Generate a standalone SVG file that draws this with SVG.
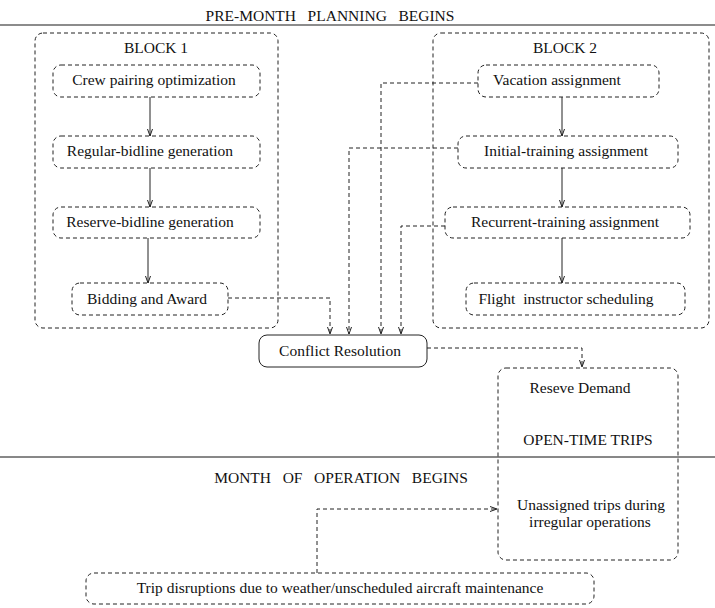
<svg xmlns="http://www.w3.org/2000/svg" width="715" height="608" viewBox="0 0 715 608">
<style>
text{font-family:"Liberation Serif","Times New Roman",serif;font-size:15.5px;fill:#111;text-anchor:middle;white-space:pre}
.db{fill:none;stroke:#222;stroke-width:1;stroke-dasharray:4,3}
.sb{fill:none;stroke:#222;stroke-width:1}
.dc{fill:none;stroke:#222;stroke-width:1;stroke-dasharray:4,3}
.sc{fill:none;stroke:#222;stroke-width:1}
</style>
<defs>
<marker id="ah" markerUnits="userSpaceOnUse" markerWidth="10" markerHeight="10" viewBox="-8 -5 10 10" refX="0" refY="0" orient="auto">
<path d="M-7,-2.5 L0,0 L-7,2.5" fill="none" stroke="#222" stroke-width="1" stroke-dasharray="none"/>
</marker>
</defs>
<rect width="715" height="608" fill="#fff"/>
<g id="phase-lines">
<line x1="0" y1="25" x2="715" y2="25" stroke="#666" stroke-width="1.5"/>
<text x="330" y="21">PRE-MONTH   PLANNING   BEGINS</text>
<line x1="0" y1="457" x2="715" y2="457" stroke="#111" stroke-width="1"/>
<text x="341" y="483">MONTH   OF   OPERATION   BEGINS</text>
</g>
<g id="block1">
<rect class="db" x="35" y="33" width="243" height="295" rx="8"/>
<text x="156" y="53">BLOCK 1</text>
</g>
<g id="block2">
<rect class="db" x="433" y="33" width="276" height="295" rx="8"/>
<text x="565" y="53">BLOCK 2</text>
</g>
<g id="crew-pairing">
<rect class="db" x="53" y="65" width="207" height="32" rx="8"/>
<text x="154" y="85">Crew pairing optimization</text>
</g>
<g id="regular-bidline">
<rect class="db" x="53" y="136" width="207" height="32" rx="8"/>
<text x="150" y="156">Regular-bidline generation</text>
</g>
<g id="reserve-bidline">
<rect class="db" x="53" y="207" width="207" height="31" rx="8"/>
<text x="150" y="227">Reserve-bidline generation</text>
</g>
<g id="bidding-award">
<rect class="db" x="72" y="283" width="156" height="32" rx="8"/>
<text x="147" y="304">Bidding and Award</text>
</g>
<g id="vacation">
<rect class="db" x="478" y="65" width="181" height="32" rx="8"/>
<text x="557" y="85">Vacation assignment</text>
</g>
<g id="initial-training">
<rect class="db" x="458" y="136" width="220" height="32" rx="8"/>
<text x="566" y="156">Initial-training assignment</text>
</g>
<g id="recurrent-training">
<rect class="db" x="445" y="207" width="245" height="31" rx="8"/>
<text x="565" y="227">Recurrent-training assignment</text>
</g>
<g id="flight-instructor">
<rect class="db" x="466" y="283" width="219" height="32" rx="8"/>
<text x="566" y="304">Flight  instructor scheduling</text>
</g>
<g id="conflict-resolution">
<rect class="sb" x="259" y="335" width="168" height="32" rx="8"/>
<text x="340" y="356">Conflict Resolution</text>
</g>
<g id="open-time-trips">
<rect class="db" x="498" y="368" width="180" height="192" rx="8"/>
<text x="580" y="393">Reseve Demand</text>
<text x="588" y="445">OPEN-TIME TRIPS</text>
<text x="591" y="510">Unassigned trips during</text>
<text x="590" y="527">irregular operations</text>
</g>
<g id="trip-disruptions">
<rect class="db" x="86" y="573" width="508" height="31" rx="8"/>
<text x="340" y="593">Trip disruptions due to weather/unscheduled aircraft maintenance</text>
</g>
<g id="connectors">
<line class="sc" x1="150" y1="97" x2="150" y2="136" marker-end="url(#ah)"/>
<line class="sc" x1="150" y1="168" x2="150" y2="207" marker-end="url(#ah)"/>
<line class="sc" x1="148" y1="238" x2="148" y2="283" marker-end="url(#ah)"/>
<line class="sc" x1="562" y1="97" x2="562" y2="136" marker-end="url(#ah)"/>
<line class="sc" x1="562" y1="168" x2="562" y2="207" marker-end="url(#ah)"/>
<line class="sc" x1="562" y1="238" x2="562" y2="283" marker-end="url(#ah)"/>
<polyline class="dc" points="228,298 330,298 330,334" marker-end="url(#ah)"/>
<polyline class="dc" points="458,148 349,148 349,334" marker-end="url(#ah)"/>
<polyline class="dc" points="478,83 381,83 381,334" marker-end="url(#ah)"/>
<polyline class="dc" points="445,226 401,226 401,334" marker-end="url(#ah)"/>
<polyline class="dc" points="427,348 582,348 582,367" marker-end="url(#ah)"/>
<polyline class="dc" points="317,573 317,509 497,509" marker-end="url(#ah)"/>
</g>
</svg>
